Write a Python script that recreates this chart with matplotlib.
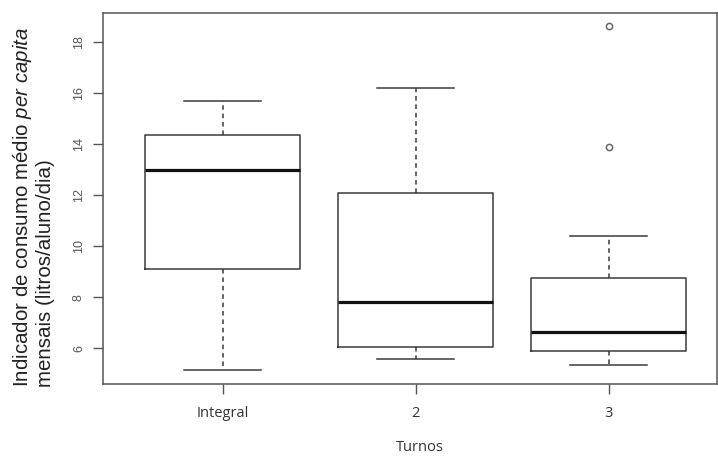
import matplotlib
matplotlib.use("Agg")
import matplotlib.pyplot as plt

# Five-number summaries per shift (litros/aluno/dia)
turnos = ["Integral", "2", "3"]
whisk_lo = [5.15, 5.59, 5.33]
q1 = [9.09, 6.06, 5.89]
mediana = [12.98, 7.80, 6.64]
q3 = [14.35, 12.09, 8.76]
whisk_hi = [15.68, 16.20, 10.40]
outliers = [[], [], [18.60, 13.89]]

plt.rcParams["mathtext.fontset"] = "custom"
plt.rcParams["mathtext.rm"] = "Liberation Sans"
plt.rcParams["mathtext.it"] = "Liberation Sans:italic"

stats = []
for i, name in enumerate(turnos):
    stats.append(dict(label=name, whislo=whisk_lo[i], q1=q1[i], med=mediana[i],
                      q3=q3[i], whishi=whisk_hi[i], fliers=outliers[i]))

fig = plt.figure(figsize=(7.18, 4.57), dpi=100)
ax = fig.add_axes([0.1435, 0.1597, 0.8545, 0.8119])

line_col = "#3a3a3a"
ax.bxp(stats, positions=[1, 2, 3], widths=0.8,
       boxprops=dict(color=line_col, linewidth=1.1),
       whiskerprops=dict(color=line_col, linewidth=1.1, linestyle=(0, (3, 2.5))),
       capprops=dict(color=line_col, linewidth=1.1),
       medianprops=dict(color="#111111", linewidth=2.3, solid_capstyle="butt"),
       flierprops=dict(marker="o", markersize=4.5, markerfacecolor="none",
                       markeredgecolor="#666666", markeredgewidth=1.1),
       capwidths=0.4)

ax.set_xlim(0.38, 3.56)
ax.set_ylim(4.60, 19.12)
ax.set_yticks([6, 8, 10, 12, 14, 16, 18])
ax.set_yticklabels(["6", "8", "10", "12", "14", "16", "18"], rotation=90,
                   va="center", fontsize=9, color="#555555", family="Liberation Sans")
ax.set_xticks([1, 2, 3])
ax.set_xticklabels(turnos, fontsize=10.5, color="#333333", family="Open Sans")

for s in ax.spines.values():
    s.set_color("#555555")
    s.set_linewidth(1.1)
ax.tick_params(axis="both", colors="#555555", length=7, width=1.0)
ax.tick_params(axis="y", pad=6, labelcolor="#555555")
ax.tick_params(axis="x", pad=9, labelcolor="#333333")

fig.text(0.046, 0.153,
         "Indicador de consumo médio $\\it{per\\ capita}$\nmensais (litros/aluno/dia)",
         rotation=90, ha="center", va="bottom", multialignment="left",
         fontsize=14.8, color="#222222", family="Liberation Sans", linespacing=1.1)

fig.text(0.585, 0.004, "Turnos", ha="center", va="bottom", fontsize=10.5,
         color="#333333", family="Open Sans")

fig.savefig("out.png", dpi=100)
